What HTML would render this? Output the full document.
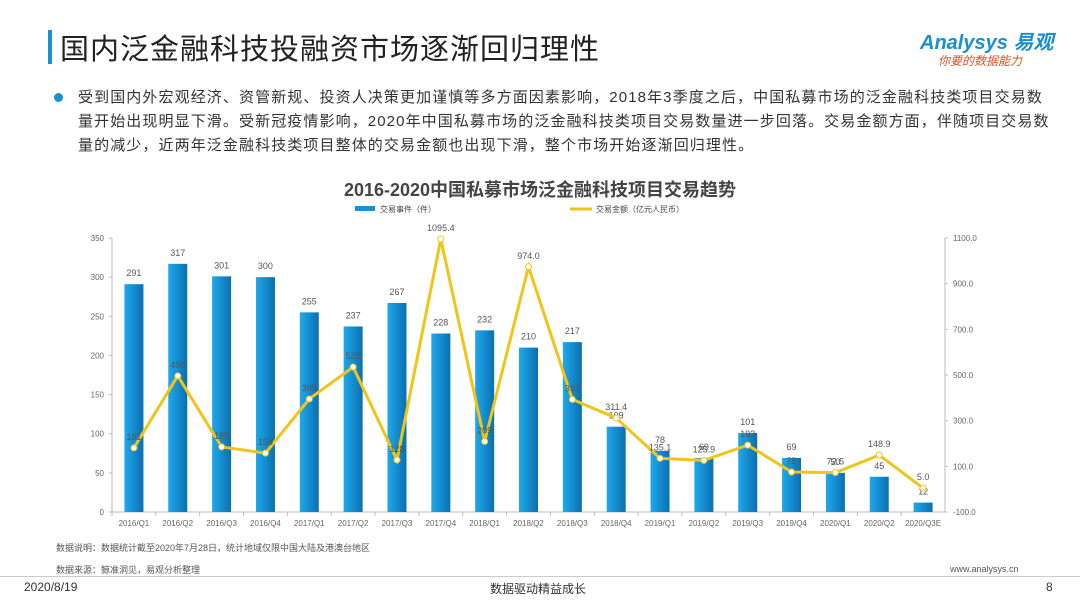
<!DOCTYPE html>
<html><head><meta charset="utf-8"><style>
body{margin:0;width:1080px;height:608px;background:#fff;font-family:"Liberation Sans","Noto Sans CJK SC",sans-serif;overflow:hidden;position:relative}
.t{position:absolute}
</style></head><body>
<div class="t" style="left:48px;top:30px;width:4px;height:34px;background:#1a8fd6"></div>
<div class="t" style="left:60px;top:26px;font-size:29px;color:#222;letter-spacing:1px">国内泛金融科技投融资市场逐渐回归理性</div>
<div class="t" style="left:920px;top:26px;font-size:20px;color:#1a8fd6;font-style:italic;font-weight:bold">Analysys 易观</div>
<div class="t" style="left:938px;top:52px;font-size:12px;color:#e0501e;font-style:italic">你要的数据能力</div>
<div class="t" style="left:54px;top:93px;width:9px;height:9px;border-radius:50%;background:#1a8fd6"></div>
<div class="t" style="left:78px;top:86px;width:972px;font-size:15px;line-height:24px;color:#333;letter-spacing:1.1px">受到国内外宏观经济、资管新规、投资人决策更加谨慎等多方面因素影响，2018年3季度之后，中国私募市场的泛金融科技类项目交易数量开始出现明显下滑。受新冠疫情影响，2020年中国私募市场的泛金融科技类项目交易数量进一步回落。交易金额方面，伴随项目交易数量的减少，近两年泛金融科技类项目整体的交易金额也出现下滑，整个市场开始逐渐回归理性。</div>
<div class="t" style="left:0;width:1080px;top:176px;text-align:center;font-size:18px;font-weight:bold;color:#444">2016-2020中国私募市场泛金融科技项目交易趋势</div>
<svg class="t" style="left:0;top:0" width="1080" height="608">
<defs><linearGradient id="g" x1="0" x2="1"><stop offset="0" stop-color="#1fa9ec"/><stop offset="1" stop-color="#0a6fb0"/></linearGradient></defs>
<g id="legend"></g><g id="axes"></g><g id="bars"></g><g id="line"></g>
</svg>
<div class="t" style="left:56px;top:541px;font-size:9px;color:#555">数据说明：数据统计截至2020年7月28日，统计地域仅限中国大陆及港澳台地区</div>
<div class="t" style="left:56px;top:563px;font-size:9px;color:#555">数据来源：鲸准洞见，易观分析整理</div>
<div class="t" style="left:950px;top:564px;font-size:9px;color:#555">www.analysys.cn</div>
<div class="t" style="left:0;top:576px;width:1080px;height:1px;background:#ccc"></div>
<div class="t" style="left:24px;top:580px;font-size:12px;color:#333">2020/8/19</div>
<div class="t" style="left:490px;top:580px;font-size:12px;color:#333">数据驱动精益成长</div>
<div class="t" style="left:1046px;top:580px;font-size:12px;color:#333">8</div>
<script>
const categories=["2016/Q1","2016/Q2","2016/Q3","2016/Q4","2017/Q1","2017/Q2","2017/Q3","2017/Q4","2018/Q1","2018/Q2","2018/Q3","2018/Q4","2019/Q1","2019/Q2","2019/Q3","2019/Q4","2020/Q1","2020/Q2","2020/Q3E"];
const counts=[291,317,301,300,255,237,267,228,232,210,217,109,78,69,101,69,50,45,12];
const amounts=[181,496,185,158,395,535,128,1095.4,209,974.0,393,311.4,135.1,125.9,193,75,72.5,148.9,5.0];
const amountLabels=["181","496","185","158","395","535","128","1095.4","209","974.0","393","311.4","135.1","125.9","193","75","72.5","148.9","5.0"];
const leftTicks=[0,50,100,150,200,250,300,350];
const rightTicks=[-100,100,300,500,700,900,1100];
const NS="http://www.w3.org/2000/svg";
const X0=112,X1=945,Y0=512,Y1=238;
const step=(X1-X0)/categories.length;
const xc=i=>X0+step*(i+0.5);
const yl=v=>Y0-(v/350)*(Y0-Y1);
const yr=v=>Y0-((v+100)/1200)*(Y0-Y1);
function mk(tag,attrs,parent,text){const e=document.createElementNS(NS,tag);for(const k in attrs)e.setAttribute(k,attrs[k]);if(text!==undefined)e.textContent=text;document.getElementById(parent).appendChild(e);return e;}
let e=mk('line',{x1:X0,x2:X0,y1:Y1,y2:Y0,stroke:'#bbb'},'axes');
e=mk('line',{x1:X1,x2:X1,y1:Y1,y2:Y0,stroke:'#bbb'},'axes');
e=mk('line',{x1:X0,x2:X1,y1:Y0,y2:Y0,stroke:'#bbb'},'axes');
leftTicks.forEach(v=>{const t=mk('text',{x:X0-8,y:yl(v)+3,'text-anchor':'end','font-size':8,fill:'#666'},'axes',v);mk('line',{x1:X0-3,x2:X0,y1:yl(v),y2:yl(v),stroke:'#bbb'},'axes');});
rightTicks.forEach(v=>{const t=mk('text',{x:X1+8,y:yr(v)+3,'font-size':8,fill:'#666'},'axes',v.toFixed(1));mk('line',{x1:X1,x2:X1+3,y1:yr(v),y2:yr(v),stroke:'#bbb'},'axes');});
categories.forEach((c,i)=>{mk('line',{x1:X0+step*i,x2:X0+step*i,y1:Y0,y2:Y0+4,stroke:'#bbb'},'axes');const t=mk('text',{x:xc(i),y:Y0+14,'text-anchor':'middle','font-size':8,fill:'#666'},'axes',c);});
counts.forEach((v,i)=>{const r=mk('rect',{x:xc(i)-9.5,y:yl(v),width:19,height:Y0-yl(v),fill:'url(#g)'},'bars');
const t=mk('text',{x:xc(i),y:yl(v)-8,'text-anchor':'middle','font-size':9,fill:'#555'},'bars',v);});
const pts=amounts.map((v,i)=>xc(i)+','+yr(v)).join(' ');
e=mk('polyline',{points:pts,fill:'none',stroke:'#f0c419','stroke-width':3},'line');
amounts.forEach((v,i)=>{const c=mk('circle',{cx:xc(i),cy:yr(v),r:3,fill:'#fff',stroke:'#f0c419','stroke-width':1},'line');
const t=mk('text',{x:xc(i),y:yr(v)-8,'text-anchor':'middle','font-size':9,fill:'#555'},'line',amountLabels[i]);});
e=mk('rect',{x:355,y:206,width:20,height:5,fill:'#1a8fd6'},'legend');
e=mk('text',{x:380,y:212,'font-size':8,fill:'#444'},'legend','交易事件（件）');
e=mk('line',{x1:570,x2:592,y1:209,y2:209,stroke:'#f0c419','stroke-width':3},'legend');
e=mk('text',{x:596,y:212,'font-size':8,fill:'#444'},'legend','交易金额（亿元人民币）');
</script>
</body></html>
